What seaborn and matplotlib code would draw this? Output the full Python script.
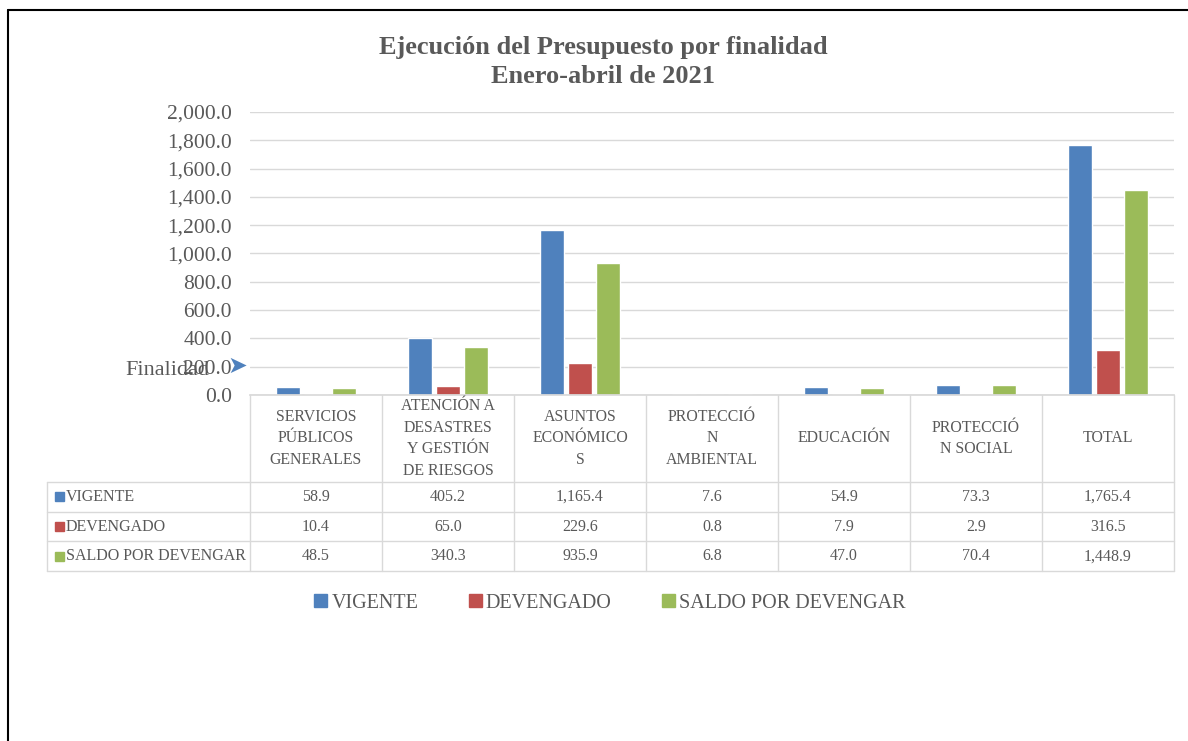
import numpy as np
import pandas as pd
import matplotlib
matplotlib.use("Agg")
import matplotlib.pyplot as plt
import matplotlib.transforms as mtransforms
from matplotlib.lines import Line2D
from matplotlib.patches import Patch, Rectangle
from matplotlib.ticker import FuncFormatter, MultipleLocator
import seaborn as sns

# datos del grafico
categories = ["SERVICIOS PÚBLICOS GENERALES", "ATENCIÓN A DESASTRES Y GESTIÓN DE RIESGOS",
              "ASUNTOS ECONÓMICOS", "PROTECCIÓN AMBIENTAL", "EDUCACIÓN",
              "PROTECCIÓN SOCIAL", "TOTAL"]
header_labels = ["SERVICIOS\nPÚBLICOS\nGENERALES", "ATENCIÓN A\nDESASTRES\nY GESTIÓN\nDE RIESGOS",
                 "ASUNTOS\nECONÓMICO\nS", "PROTECCIÓ\nN\nAMBIENTAL", "EDUCACIÓN",
                 "PROTECCIÓ\nN SOCIAL", "TOTAL"]
series = ["VIGENTE", "DEVENGADO", "SALDO POR DEVENGAR"]
vigente = [58.9, 405.2, 1165.4, 7.6, 54.9, 73.3, 1765.4]
devengado = [10.4, 65.0, 229.6, 0.8, 7.9, 2.9, 316.5]
saldo = [48.5, 340.3, 935.9, 6.8, 47.0, 70.4, 1448.9]
colors = ["#4F81BD", "#C0504D", "#9BBB59"]

df = pd.DataFrame({
    "Finalidad": categories * 3,
    "Serie": np.repeat(series, len(categories)),
    "Monto": vigente + devengado + saldo,
})

sns.set_theme(style="white")
plt.rcParams["font.family"] = ["Liberation Serif", "DejaVu Serif"]
gray = "#595959"
grid_c = "#D9D9D9"

W, H = 1188, 741
fig = plt.figure(figsize=(W / 100, H / 100), dpi=100)
ax = fig.add_axes([250 / W, (H - 395) / H, 924 / W, 283 / H])

sns.barplot(data=df, x="Finalidad", y="Monto", hue="Serie", palette=colors,
            width=0.64, gap=0.15, saturation=1, legend=False, ax=ax)

ax.set_xlim(-0.5, len(categories) - 0.5)
ax.set_ylim(0, 2000)
ax.yaxis.set_major_locator(MultipleLocator(200))
ax.yaxis.set_major_formatter(FuncFormatter(lambda v, p: f"{v:,.1f}"))
ax.grid(axis="y", color=grid_c, lw=1)
ax.set_axisbelow(True)
for s in ["top", "right", "left"]:
    ax.spines[s].set_visible(False)
ax.spines["bottom"].set_color(grid_c)
ax.set_xticklabels([])
ax.set_xlabel("")
ax.set_ylabel("")
ax.tick_params(axis="both", length=0)
ax.tick_params(axis="y", labelsize=15.5, labelcolor=gray, pad=13)

# titulo
fig.text(603 / W, 1 - 62 / H, "Ejecución del Presupuesto por finalidad\nEnero-abril de 2021",
         ha="center", va="center", fontsize=19, fontweight="bold", color=gray, linespacing=1.3)

# tabla de datos
tr = mtransforms.blended_transform_factory(ax.transData, ax.transAxes)
col_edges = np.arange(len(categories) + 1) - 0.5
left = -0.5 - 203 / 132
yh = -(482 - 395) / 283
row_h = 29.7 / 283
rows_y = [yh - row_h * k for k in range(4)]

for x in col_edges:
    ax.add_line(Line2D([x, x], [0, rows_y[-1]], color=grid_c, lw=1, transform=tr, clip_on=False))
ax.add_line(Line2D([left, left], [yh, rows_y[-1]], color=grid_c, lw=1, transform=tr, clip_on=False))
for y in rows_y:
    ax.add_line(Line2D([left, col_edges[-1]], [y, y], color=grid_c, lw=1, transform=tr, clip_on=False))

for i, lab in enumerate(header_labels):
    ax.text(i, yh / 2, lab, transform=tr, ha="center", va="center", fontsize=11.4,
            color=gray, linespacing=1.45)

for k, (name, vals) in enumerate(zip(series, [vigente, devengado, saldo])):
    yc = (rows_y[k] + rows_y[k + 1]) / 2
    ax.add_patch(Rectangle((left + 8 / 132, yc - 4.5 / 283), 9 / 132, 9 / 283,
                           color=colors[k], transform=tr, clip_on=False))
    ax.text(left + 19 / 132, yc, name, transform=tr, ha="left", va="center",
            fontsize=11.5, color=gray)
    for i, v in enumerate(vals):
        ax.text(i, yc, f"{v:,.1f}", transform=tr, ha="center", va="center",
                fontsize=11.5, color=gray)

# leyenda
handles = [Patch(color=c, label=s) for c, s in zip(colors, series)]
fig.legend(handles=handles, loc="center", bbox_to_anchor=(610 / W, 1 - 603 / H), ncol=3,
           frameon=False, fontsize=14.5, handlelength=0.65, handleheight=0.65,
           handletextpad=0.2, columnspacing=2.5, labelcolor=gray)

# etiqueta suelta y flecha
fig.text(125 / W, 1 - 371 / H, "Finalidad", fontsize=16, color=gray, va="center")
fig.text(227 / W, 1 - 366 / H, "➤", fontsize=17, color="#4F81BD", va="center",
         family="DejaVu Sans")

# marco
fig.add_artist(Line2D([8 / W, 8 / W], [0, 1 - 10 / H], color="black", lw=1.5, transform=fig.transFigure))
fig.add_artist(Line2D([8 / W, 1], [1 - 10 / H, 1 - 10 / H], color="black", lw=1.5, transform=fig.transFigure))

fig.savefig("out.png", dpi=100)
